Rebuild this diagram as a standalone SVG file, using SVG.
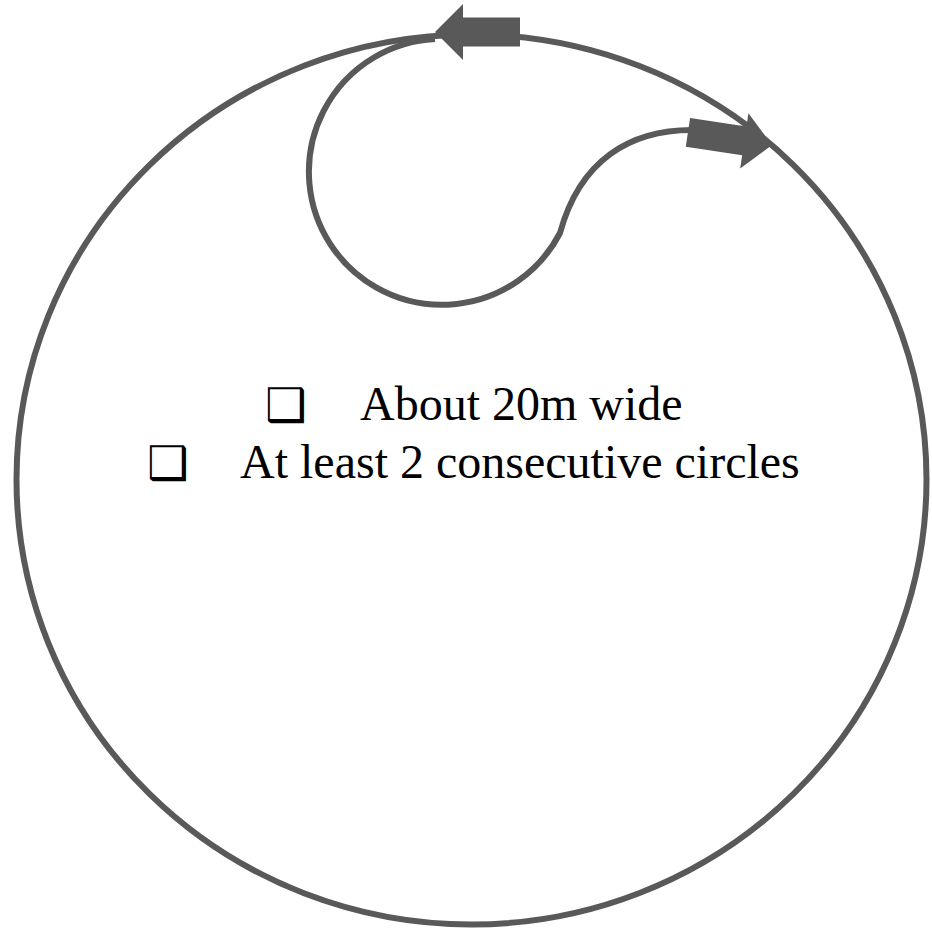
<svg xmlns="http://www.w3.org/2000/svg" xmlns:xlink="http://www.w3.org/1999/xlink" width="932" height="930" viewBox="0 0 932 930">
  <style>
    .line { fill: none; stroke: #595959; stroke-width: 6; }
    .arrow { fill: #595959; stroke: none; }
    .label { font-family: "Liberation Serif", "Times New Roman", serif; font-size: 48px; fill: #000000; }
    .bullet { font-family: "DejaVu Sans", sans-serif; font-size: 46px; fill: #000000; }
  </style>
  <defs>
    <polygon id="block-arrow" points="0,0 -28,-28 -28,-14.5 -85,-14.5 -85,14.5 -28,14.5 -28,28"/>
  </defs>
  <rect width="932" height="930" fill="#ffffff"/>
  <g id="track">
    <ellipse class="line" cx="471.5" cy="479.5" rx="455" ry="445"/>
  </g>
  <g id="connectors">
    <path class="line" d="M435,39 A133,133 0 1 0 560,233 C580,160 630,130 692,130"/>
    <use href="#block-arrow" class="arrow" transform="translate(435,32) rotate(180)"/>
    <use href="#block-arrow" class="arrow" transform="translate(772,145) rotate(8.5)"/>
  </g>
  <g id="notes">
    <text class="bullet" x="265" y="421">❑</text>
    <text class="label" x="360" y="420">About 20m wide</text>
    <text class="bullet" x="147" y="479">❑</text>
    <text class="label" x="240" y="478">At least 2 consecutive circles</text>
  </g>
</svg>
